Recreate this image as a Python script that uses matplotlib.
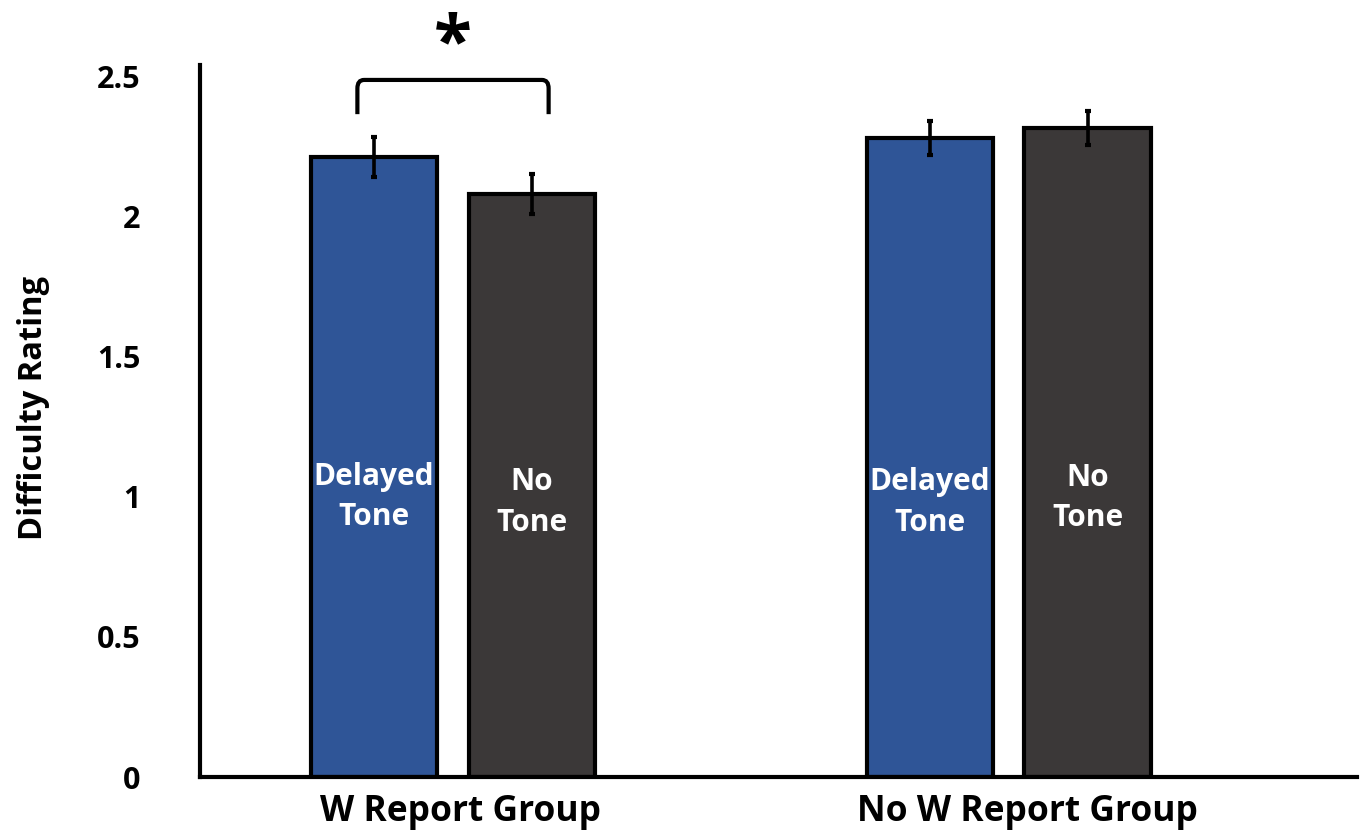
import numpy as np
import matplotlib
matplotlib.use("Agg")
from matplotlib import pyplot as plt
from matplotlib.path import Path
from matplotlib.patches import PathPatch

plt.rcParams['font.family'] = ['Open Sans', 'DejaVu Sans']
plt.rcParams['font.weight'] = 'bold'

# Data
groups = ["W Report Group", "No W Report Group"]
conditions = ["Delayed\nTone", "No\nTone"]
delayed_mean = [2.21, 2.28]
delayed_err = [0.071, 0.06]
notone_mean = [2.08, 2.315]
notone_err = [0.071, 0.06]
label_y = [[0.998, 0.979], [0.979, 0.996]]

BLUE = "#2F5597"
GREY = "#3B3838"

fig = plt.figure(figsize=(13.61, 8.34), dpi=100)
ax = fig.add_axes([0.147, 0.0683, 0.850, 0.854])

x = np.arange(len(groups))
off = 0.142
width = 0.228

ebkw = dict(ecolor="black", elinewidth=2.6, capsize=2.5, capthick=3)
ax.bar(x - off, delayed_mean, width, yerr=delayed_err, color=BLUE,
       edgecolor="black", linewidth=3, error_kw=ebkw, zorder=2)
ax.bar(x + off, notone_mean, width, yerr=notone_err, color=GREY,
       edgecolor="black", linewidth=3, error_kw=ebkw, zorder=2)

# labels inside the bars
for i in range(len(groups)):
    for j, dx in enumerate([-off, off]):
        ax.text(x[i] + dx, label_y[i][j], conditions[j], color="white",
                ha="center", va="center", fontsize=21.5, fontweight="bold",
                linespacing=1.45)

# significance bracket with rounded corners
x0, x1 = x[0] - off - 0.03, x[0] + off + 0.03
ylo, yhi = 2.364, 2.486
r = 0.012
verts = [(x0, ylo), (x0, yhi - 0.03), (x0, yhi), (x0 + r, yhi),
         (x1 - r, yhi), (x1, yhi), (x1, yhi - 0.03), (x1, ylo)]
codes = [Path.MOVETO, Path.LINETO, Path.CURVE3, Path.CURVE3,
         Path.LINETO, Path.CURVE3, Path.CURVE3, Path.LINETO]
ax.add_patch(PathPatch(Path(verts, codes), fill=False, lw=3,
                       edgecolor="black", clip_on=False))
ax.text(x[0], 2.605, "*", ha="center", va="center", fontsize=50,
        fontweight="bold", clip_on=False)

ax.set_xlim(-0.455, 1.626)
ax.set_ylim(0, 2.54)
ax.set_yticks([0, 0.5, 1, 1.5, 2, 2.5])
ax.set_yticklabels(["0", "0.5", "1", "1.5", "2", "2.5"])
ax.set_xticks(x + [0.013, 0.034])
ax.set_xticklabels(groups)
ax.tick_params(axis="both", length=0)
ax.tick_params(axis="y", pad=43, labelsize=22)
ax.tick_params(axis="x", pad=12, labelsize=25.5)
for lab in ax.get_xticklabels() + ax.get_yticklabels():
    lab.set_fontweight("bold")

for s in ["top", "right"]:
    ax.spines[s].set_visible(False)
for s in ["left", "bottom"]:
    ax.spines[s].set_linewidth(3)

ax.set_ylabel("Difficulty Rating", fontsize=23.5, fontweight="bold")
ax.yaxis.set_label_coords(-0.13, 0.518)

fig.savefig("out.png", dpi=100)
